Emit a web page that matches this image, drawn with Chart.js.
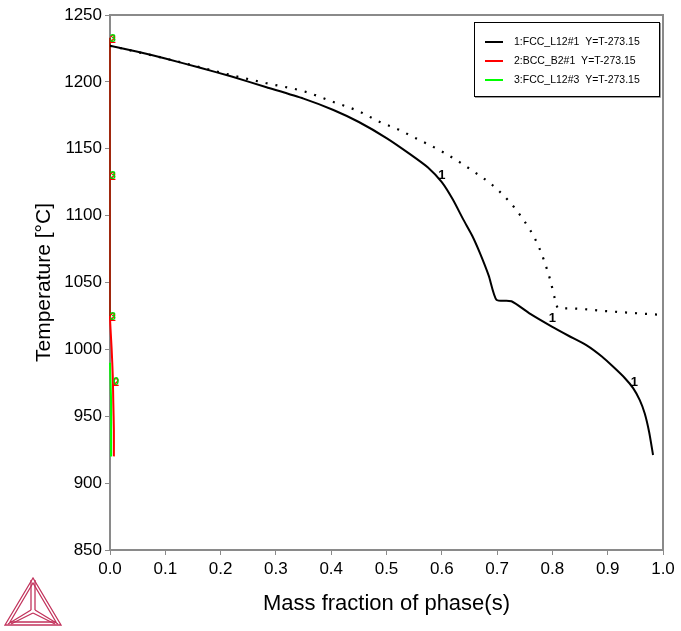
<!DOCTYPE html>
<html>
<head>
<meta charset="utf-8">
<script src="https://cdn.jsdelivr.net/npm/chart.js@4/dist/chart.umd.min.js"></script>
<style>
  html, body { margin: 0; padding: 0; background: #fff; }
  #wrap { position: relative; width: 681px; height: 631px; }
  #logo { position: absolute; left: 3px; top: 575px; }
</style>
</head>
<body>
<div id="wrap">
  <canvas id="chart" width="681" height="631"></canvas>
  <svg id="logo" width="60" height="54" viewBox="0 0 60 54">
    <g fill="none" stroke="#c2335c" stroke-width="1.3">
      <polygon points="30,3 2,50 58,50"/>
      <polygon points="30,8 7,47 53,47"/>
      <line x1="28" y1="5" x2="28" y2="35"/>
      <line x1="32" y1="5" x2="32" y2="35"/>
      <line x1="28" y1="35" x2="5" y2="49"/>
      <line x1="30" y1="38" x2="8" y2="49"/>
      <line x1="32" y1="35" x2="55" y2="49"/>
      <line x1="30" y1="38" x2="52" y2="49"/>
    </g>
  </svg>
</div>
<script>
// FCC_L12#1 (solid) : mass fraction vs temperature
const fcc1X = [0, 0.05, 0.1, 0.163, 0.22, 0.283, 0.35, 0.404, 0.45, 0.5, 0.5425, 0.575, 0.6, 0.62, 0.639, 0.655, 0.669, 0.685, 0.699, 0.726, 0.76, 0.799, 0.83, 0.862, 0.89, 0.91, 0.93, 0.946, 0.958, 0.967, 0.975, 0.982];
const fcc1T = [1227, 1222.5, 1217.5, 1210.5, 1204, 1196, 1187.5, 1179, 1170, 1158, 1146, 1136, 1125, 1112, 1097, 1085, 1072, 1055, 1037, 1036, 1026.5, 1017, 1010, 1003, 994.5, 987, 979, 971, 962, 952, 938, 921];

// second FCC_L12#1 branch (dotted)
const fccDotX = [0, 0.1, 0.163, 0.22, 0.283, 0.35, 0.404, 0.45, 0.488, 0.524, 0.5425, 0.6, 0.654, 0.702, 0.744, 0.775, 0.796, 0.805, 0.81, 0.826, 0.9, 1.0];
const fccDotT = [1227, 1217.5, 1211, 1205, 1199, 1193, 1185, 1178, 1170, 1164, 1160, 1148, 1134, 1119, 1099, 1077, 1052, 1037, 1031, 1030.7, 1028.5, 1025.7];

// BCC_B2#1
const bccX = [0, 0, 0.001, 0.003, 0.005, 0.006, 0.007, 0.007];
const bccT = [1233, 1025, 1015, 1000, 980, 960, 940, 920];

// FCC_L12#3
const fcc3X = [0, 0.001, 0.002, 0.002, 0.002];
const fcc3T = [990, 975, 960, 940, 920];

const legendNames = ['1:FCC_L12#1  Y=T-273.15', '2:BCC_B2#1  Y=T-273.15', '3:FCC_L12#3  Y=T-273.15'];
const lineColors = ['#000000', '#ff0000', '#00ff00'];

// curve id labels
const idLabels = [
  { x: 0.600, y: 1130, text: '1' },
  { x: 0.800, y: 1023, text: '1' },
  { x: 0.948, y: 975, text: '1' }
];
const markLabels = [
  { x: 0.005, y: 1232, text: '3' },
  { x: 0.005, y: 1130, text: '3' },
  { x: 0.005, y: 1024, text: '3' },
  { x: 0.011, y: 976, text: '0' }
];

const xTicks = [0, 0.1, 0.2, 0.3, 0.4, 0.5, 0.6, 0.7, 0.8, 0.9, 1.0];
const yTicks = [850, 900, 950, 1000, 1050, 1100, 1150, 1200, 1250];

const pts = (xs, ys) => xs.map((v, i) => ({ x: v, y: ys[i] }));
const fontFam = '"Liberation Sans", Arial, sans-serif';

const frame = {
  id: 'frame',
  afterDraw(chart) {
    const { ctx, chartArea: a, scales } = chart;
    ctx.save();
    ctx.strokeStyle = '#8a8a8a';
    ctx.lineWidth = 2;
    ctx.beginPath();
    ctx.moveTo(a.left, a.top);
    ctx.lineTo(a.right, a.top);
    ctx.lineTo(a.right, a.bottom);
    ctx.stroke();

    // curve labels
    ctx.font = 'bold 13px ' + fontFam;
    ctx.textAlign = 'center';
    ctx.textBaseline = 'middle';
    ctx.fillStyle = '#000';
    idLabels.forEach(l => {
      ctx.fillText(l.text, scales.x.getPixelForValue(l.x), scales.y.getPixelForValue(l.y));
    });
    ctx.font = 'bold 11px ' + fontFam;
    markLabels.forEach(l => {
      const px = scales.x.getPixelForValue(l.x);
      const py = scales.y.getPixelForValue(l.y);
      ctx.fillStyle = '#ff0000';
      ctx.fillText('2', px, py + 1);
      ctx.fillStyle = '#00dd00';
      ctx.fillText(l.text, px, py);
    });

    // legend box
    const bx = 474, by = 22, bw = 185, bh = 74;
    ctx.fillStyle = '#fff';
    ctx.fillRect(bx, by, bw, bh);
    ctx.strokeStyle = '#000';
    ctx.lineWidth = 1;
    ctx.strokeRect(bx + 0.5, by + 0.5, bw, bh);
    ctx.strokeStyle = '#9a9a9a';
    ctx.beginPath();
    ctx.moveTo(bx + 1, by + bh + 1.5);
    ctx.lineTo(bx + bw + 1.5, by + bh + 1.5);
    ctx.lineTo(bx + bw + 1.5, by + 1);
    ctx.stroke();
    ctx.font = '10.5px ' + fontFam;
    ctx.textAlign = 'left';
    legendNames.forEach((name, i) => {
      const yy = by + 20 + i * 19;
      ctx.strokeStyle = lineColors[i];
      ctx.lineWidth = 2;
      ctx.beginPath();
      ctx.moveTo(bx + 11, yy);
      ctx.lineTo(bx + 29, yy);
      ctx.stroke();
      ctx.fillStyle = '#000';
      ctx.fillText(name, bx + 40, yy);
    });
    ctx.restore();
  }
};

const tickFont = { family: fontFam, size: 17 };

new Chart(document.getElementById('chart'), {
  type: 'scatter',
  data: {
    datasets: [
      { data: pts(fccDotX, fccDotT), borderColor: '#000', borderWidth: 2.2, borderDash: [2, 8], showLine: true, pointRadius: 0, cubicInterpolationMode: 'monotone' },
      { data: pts(fcc1X, fcc1T), borderColor: lineColors[0], borderWidth: 2, showLine: true, pointRadius: 0, tension: 0.2 },
      { data: pts(bccX, bccT), borderColor: lineColors[1], borderWidth: 2, showLine: true, pointRadius: 0, tension: 0.3, clip: false,
        // the part lying on the axis reads darker
        segment: { borderColor: c => c.p0DataIndex === 0 ? '#a0280e' : undefined } },
      { data: pts(fcc3X, fcc3T), borderColor: lineColors[2], borderWidth: 2, showLine: true, pointRadius: 0, tension: 0.3, clip: false }
    ]
  },
  options: {
    responsive: false,
    animation: false,
    layout: { padding: { top: 15, right: 18, left: 0, bottom: 0 } },
    plugins: { legend: { display: false }, tooltip: { enabled: false } },
    scales: {
      x: {
        type: 'linear', min: 0, max: 1,
        afterBuildTicks: s => { s.ticks = xTicks.map(v => ({ value: v })); },
        afterFit: s => { s.height = 81; },
        ticks: { color: '#000', font: tickFont, padding: 4, callback: v => v.toFixed(1), maxRotation: 0 },
        grid: { drawOnChartArea: false, color: '#8a8a8a', tickLength: 5 },
        border: { color: '#8a8a8a', width: 2 },
        title: { display: true, text: 'Mass fraction of phase(s)', color: '#000',
                 font: { family: fontFam, size: 22 }, padding: { top: 6, bottom: 14 } }
      },
      y: {
        type: 'linear', min: 850, max: 1250,
        afterBuildTicks: s => { s.ticks = yTicks.map(v => ({ value: v })); },
        afterFit: s => { s.width = 110; },
        ticks: { color: '#000', font: tickFont, padding: 3, callback: v => String(v) },
        grid: { drawOnChartArea: false, color: '#8a8a8a', tickLength: 5 },
        border: { color: '#8a8a8a', width: 2, z: -1 },
        title: { display: true, text: 'Temperature [°C]', color: '#000',
                 font: { family: fontFam, size: 21 }, padding: { top: 32, bottom: 0 } }
      }
    }
  },
  plugins: [frame]
});
</script>
</body>
</html>
